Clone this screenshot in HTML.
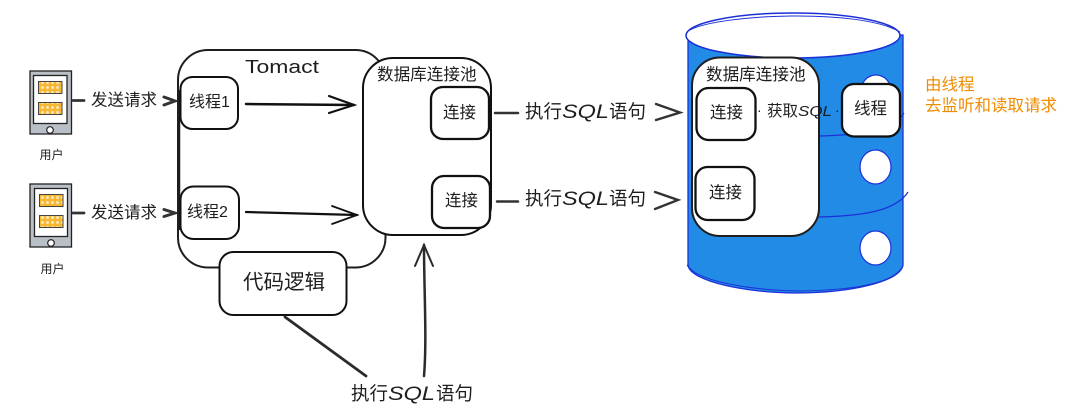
<!DOCTYPE html>
<html>
<head>
<meta charset="utf-8">
<style>
html,body{margin:0;padding:0;background:#fff;}
svg{display:block;}
text{font-family:"Liberation Sans","Noto Sans CJK SC",sans-serif;fill:#1e1e1e;}
.i{font-style:italic;}
</style>
</head>
<body>
<svg width="1092" height="420" viewBox="0 0 1092 420" xmlns="http://www.w3.org/2000/svg">
<defs>
<pattern id="chk" width="5" height="5" patternUnits="userSpaceOnUse">
<rect width="5" height="5" fill="#f7b731"/>
<circle cx="2.500" cy="2.500" r="1.500" fill="#fbe6b8"/>
</pattern>
</defs>

<!-- Phones -->
<g>
<rect x="30" y="71" width="41.500" height="63" fill="#b9bfc6" stroke="#222" stroke-width="1.300"/>
<rect x="33.500" y="75.500" width="33.500" height="48" fill="#fff" stroke="#222" stroke-width="1.300"/>
<rect x="38.500" y="81.500" width="23.500" height="12" fill="url(#chk)" stroke="#444" stroke-width="1"/>
<rect x="38.500" y="102.500" width="23.500" height="12" fill="url(#chk)" stroke="#444" stroke-width="1"/>
<circle cx="50" cy="130" r="3.300" fill="#fff" stroke="#222" stroke-width="1.200"/>
</g>
<g>
<rect x="30" y="184" width="41.500" height="63" fill="#b9bfc6" stroke="#222" stroke-width="1.300"/>
<rect x="34.500" y="188.500" width="33" height="48" fill="#fff" stroke="#222" stroke-width="1.300"/>
<rect x="39.500" y="194.500" width="23.500" height="12" fill="url(#chk)" stroke="#444" stroke-width="1"/>
<rect x="39.500" y="215.500" width="23.500" height="12" fill="url(#chk)" stroke="#444" stroke-width="1"/>
<circle cx="51" cy="243" r="3.300" fill="#fff" stroke="#222" stroke-width="1.200"/>
</g>
<text x="39.500" y="159" font-size="12" fill="#333">用户</text>
<text x="40.500" y="273" font-size="12" fill="#333">用户</text>

<!-- Request arrows -->
<g fill="none" stroke="#333" stroke-linecap="round">
<path d="M73 100.500H84" stroke-width="2.800"/>
<path d="M73 213H84" stroke-width="2.800"/>
<path d="M164 97L175 101L164 105" stroke-width="3"/>
<path d="M164 209.500L175 213L164 216.500" stroke-width="3"/>
</g>
<text x="91" y="105.500" font-size="16.500">发送请求</text>
<text x="91" y="218" font-size="16.500">发送请求</text>

<!-- Tomcat -->
<rect x="178" y="50" width="207.500" height="217.500" rx="30" fill="#fff" stroke="#1e1e1e" stroke-width="2"/>
<path d="M179 90V230" stroke="#1e1e1e" stroke-width="2.500" fill="none"/>
<text x="245" y="73" font-size="18" textLength="74" lengthAdjust="spacingAndGlyphs">Tomact</text>

<rect x="180.500" y="77" width="57.500" height="52" rx="12" fill="#fff" stroke="#111" stroke-width="2"/>
<text x="189" y="107" font-size="16">线程1</text>
<rect x="180.500" y="186.500" width="58.500" height="52.500" rx="13" fill="#fff" stroke="#111" stroke-width="2"/>
<text x="187" y="217" font-size="16">线程2</text>

<!-- Thread arrows -->
<g fill="none" stroke="#111" stroke-linecap="round">
<path d="M246 104L354 105" stroke-width="2.500"/>
<path d="M329 96L354 105L329 113" stroke-width="2.200"/>
<path d="M246 212L357 215" stroke-width="2.300"/>
<path d="M332 206L357 215L332 224" stroke-width="1.800"/>
</g>

<!-- Pool 1 -->
<rect x="363" y="58" width="128" height="177" rx="30" fill="#fff" stroke="#111" stroke-width="2"/>
<text x="377" y="80" font-size="16.600">数据库连接池</text>
<rect x="431" y="87" width="58" height="52" rx="12" fill="#fff" stroke="#111" stroke-width="2.300"/>
<text x="443" y="118" font-size="16.500">连接</text>
<rect x="432" y="176" width="58" height="52" rx="12" fill="#fff" stroke="#111" stroke-width="2.300"/>
<text x="445" y="206" font-size="16.500">连接</text>

<!-- Code logic -->
<rect x="219.500" y="252" width="127" height="63" rx="14" fill="#fff" stroke="#111" stroke-width="2"/>
<text x="243" y="289" font-size="20.500">代码逻辑</text>

<!-- Bottom lines -->
<g fill="none" stroke="#2b2b2b" stroke-linecap="round">
<path d="M285 317L366 376" stroke-width="2.800"/>
<path d="M424 376C427 340 424 290 424 245" stroke-width="2.500"/>
<path d="M415 266L424 245L433 266" stroke-width="2"/>
</g>
<text x="351" y="400" font-size="18.500">执行</text>
<text class="i" x="388" y="400" font-size="19" textLength="47" lengthAdjust="spacingAndGlyphs">SQL</text>
<text x="436" y="400" font-size="18.500">语句</text>

<!-- Database -->
<path d="M688 35V265C690 282 750 293 795 293C850 293 900 282 903 265V35Z" fill="#228be6" stroke="#1c30d8" stroke-width="1.300"/>
<path d="M687 265C700 285 770 291 800 291C860 290 895 282 903 266" fill="none" stroke="#1c30d8" stroke-width="1"/>
<ellipse cx="793" cy="35.500" rx="107" ry="22.500" fill="#fff" stroke="#1c30d8" stroke-width="1.500"/>
<path d="M690 30C720 14 860 8 900 32" fill="none" stroke="#1c30d8" stroke-width="1"/>
<path d="M820 136C860 135 893 130 904 113" fill="none" stroke="#1c30d8" stroke-width="1.200"/>
<path d="M818 217C860 216 895 212 908 192" fill="none" stroke="#1c30d8" stroke-width="1.200"/>
<ellipse cx="876" cy="92" rx="15.500" ry="17" fill="#fff" stroke="#1c30d8" stroke-width="1.200"/>
<ellipse cx="875.500" cy="167" rx="15.500" ry="17" fill="#fff" stroke="#1c30d8" stroke-width="1.200"/>
<ellipse cx="875.500" cy="248" rx="15.500" ry="17" fill="#fff" stroke="#1c30d8" stroke-width="1.200"/>

<!-- Pool 2 -->
<rect x="692" y="57.500" width="127" height="178.500" rx="28" fill="#fff" stroke="#1e1e1e" stroke-width="2"/>
<text x="706" y="80" font-size="16.600">数据库连接池</text>
<rect x="696.500" y="88" width="59" height="52" rx="12" fill="#fff" stroke="#111" stroke-width="2.300"/>
<text x="710" y="118" font-size="16.500">连接</text>
<rect x="695.500" y="167" width="59" height="53" rx="12" fill="#fff" stroke="#111" stroke-width="2.300"/>
<text x="709" y="198" font-size="16.500">连接</text>
<text x="757" y="115" font-size="14">·</text>
<text x="767" y="116" font-size="15.500">获取</text>
<text class="i" x="798" y="116" font-size="15" textLength="34" lengthAdjust="spacingAndGlyphs">SQL</text>
<text x="835" y="115" font-size="14">·</text>
<rect x="842" y="84" width="58" height="52.500" rx="12" fill="#fff" stroke="#111" stroke-width="2.300"/>
<text x="854" y="114" font-size="16.500">线程</text>

<!-- SQL arrows -->
<g fill="none" stroke="#333" stroke-linecap="round">
<path d="M495 113H518" stroke-width="2.500"/>
<path d="M497 201.500H518" stroke-width="2.500"/>
<path d="M656 104L680 112.500L656 120" stroke-width="2.400"/>
<path d="M655 192L678 200L655 209" stroke-width="2.400"/>
</g>
<text x="525" y="118" font-size="18.500">执行</text>
<text class="i" x="562" y="118" font-size="19" textLength="47" lengthAdjust="spacingAndGlyphs">SQL</text>
<text x="609" y="118" font-size="18.500">语句</text>
<text x="525" y="205" font-size="18.500">执行</text>
<text class="i" x="562" y="205" font-size="19" textLength="47" lengthAdjust="spacingAndGlyphs">SQL</text>
<text x="609" y="205" font-size="18.500">语句</text>

<!-- Orange note -->
<text x="925" y="90" font-size="16.500" style="fill:#f08c00">由线程</text>
<text x="925" y="111" font-size="16.500" style="fill:#f08c00">去监听和读取请求</text>
</svg>
</body>
</html>
